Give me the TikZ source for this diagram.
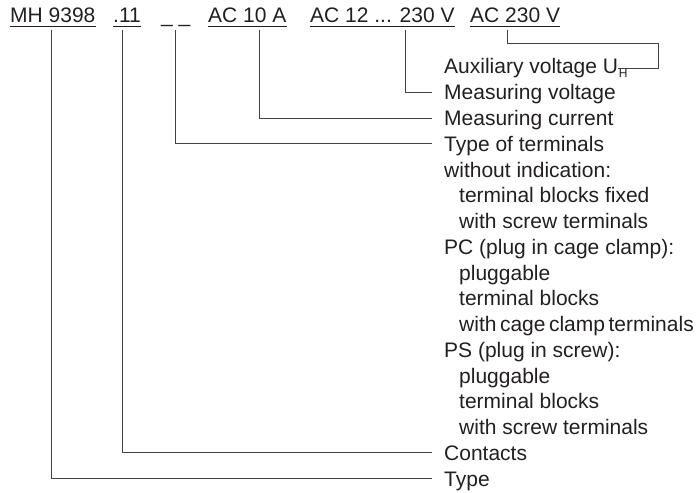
\documentclass[tikz,border=0pt]{standalone}
\usepackage{fontspec}
\setmainfont{Liberation Sans}
\usetikzlibrary{calc}
\definecolor{ink}{RGB}{35,31,32}
\begin{document}
\begin{tikzpicture}[x=1pt,y=-1pt,
  every node/.style={text=ink,font=\fontsize{21pt}{25pt}\selectfont},
  toplbl/.style={anchor=base west,inner sep=0pt,text height=15pt,text depth=0pt},
  lbl/.style={anchor=base west,inner sep=0pt,text height=15pt,text depth=0pt},
  conn/.style={draw=ink!85,line width=0.9pt},
  uline/.style={draw=ink,line width=0.9pt}]
\useasboundingbox (0,0) rectangle (700,492);
% top code labels
\node[toplbl] (mh)  at (10,23)  {MH 9398};
\node[toplbl] (c11) at (113,23) {.11};
\node[toplbl] (us)  at (161,23) {\_\ \_};
\node[toplbl] (aca) at (208,23) {AC 10 A};
\node[toplbl] (acv) at (310,23) {AC 12 ... 230 V};
\node[toplbl] (acb) at (470,23) {AC 230 V};
\foreach \n in {mh,c11,aca,acv,acb}
  \draw[uline] ([yshift=-3pt]\n.south west) -- ([yshift=-3pt]\n.south east);
% right column
\def\rowy#1{74+25.75*#1}
\node[lbl] (aux) at (444,{\rowy{0}}) {Auxiliary voltage U\hspace{0.8pt}\raisebox{-4pt}{\fontsize{12pt}{12pt}\selectfont H}};
\node[lbl] (mv)  at (444,{\rowy{1}}) {Measuring voltage};
\node[lbl] (mc)  at (444,{\rowy{2}}) {Measuring current};
\node[lbl] (tt)  at (444,{\rowy{3}}) {Type of terminals};
\node[lbl] (r4)  at (444,{\rowy{4}}) {without indication:};
\node[lbl] (r5)  at (459,{\rowy{5}}) {terminal blocks fixed};
\node[lbl] (r6)  at (459,{\rowy{6}}) {with screw terminals};
\node[lbl] (r7)  at (444,{\rowy{7}}) {PC (plug in cage clamp):};
\node[lbl] (r8)  at (459,{\rowy{8}}) {pluggable};
\node[lbl] (r9)  at (459,{\rowy{9}}) {terminal blocks};
\node[lbl] (r10) at (459,{\rowy{10}}) {with\hspace{3.5pt}cage\hspace{3.5pt}clamp\hspace{3.5pt}terminals};
\node[lbl] (r11) at (444,{\rowy{11}}) {PS (plug in screw):};
\node[lbl] (r12) at (459,{\rowy{12}}) {pluggable};
\node[lbl] (r13) at (459,{\rowy{13}}) {terminal blocks};
\node[lbl] (r14) at (459,{\rowy{14}}) {with screw terminals};
\node[lbl] (ct)  at (444,{\rowy{15}}) {Contacts};
\node[lbl] (ty)  at (444,{\rowy{16}}) {Type};
% connectors
\draw[conn] ($(mh.south west)+(41,7)$)  |- ($(ty.west)+(-12,0)$);
\draw[conn] ($(c11.south west)+(9,7)$)  |- ($(ct.west)+(-12,0)$);
\draw[conn] ($(us.south west)+(14,7)$)  |- ($(tt.west)+(-12,0)$);
\draw[conn] ($(aca.south west)+(51,7)$) |- ($(mc.west)+(-12,0)$);
\draw[conn] ($(acv.south west)+(95,7)$) |- ($(mv.west)+(-12,0)$);
\coordinate (auxend) at (618,68);
\draw[conn] ($(acb.south west)+(37,7)$) -- ++(0,13) -| ($(auxend)+(40,0)$) -- (auxend);
\end{tikzpicture}
\end{document}
